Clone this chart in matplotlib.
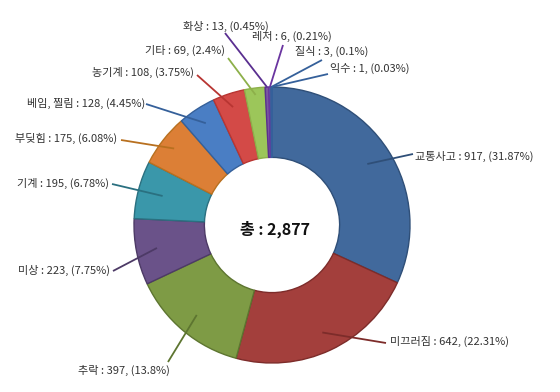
import numpy as np
import matplotlib.pyplot as plt

plt.rcParams['font.family'] = ['Noto Sans CJK KR', 'DejaVu Sans']

# data (clockwise from top)
categories = ['교통사고', '미끄러짐', '추락', '미상', '기계', '부딪힘', '베임, 찔림',
              '농기계', '기타', '화상', '레저', '질식', '익수']
counts = [917, 642, 397, 223, 195, 175, 128, 108, 69, 13, 6, 3, 1]
percents = ['31.87', '22.31', '13.8', '7.75', '6.78', '6.08', '4.45',
            '3.75', '2.4', '0.45', '0.21', '0.1', '0.03']
total_label = '총 : 2,877'

colors = ['#41699c', '#a33f3c', '#7e9b45', '#6a5289', '#3a97aa', '#dc7f36', '#4a7ec4',
          '#d34a47', '#9cc65a', '#7a56a0', '#3d9ab0', '#e0873c', '#4d7fc0']
edge_colors = ['#2f4f78', '#7d2c2a', '#5d7530', '#4d3a66', '#2a7080', '#b8701f', '#35609a',
               '#b83532', '#8db04a', '#5a2f90', '#6a35a0', '#35609a', '#35609a']

# label text positions in pixels (x, y from top)
label_pos = [(415, 156), (390, 341), (78, 370), (18, 270), (17, 183), (15, 138), (27, 103),
             (92, 72), (145, 50), (183, 26), (252, 36), (295, 51), (330, 68)]
line_start = [(413, 154), (386, 343), (168, 362), (113, 271), (112, 184), (121, 140), (146, 104),
              (197, 75), (228, 58), (225, 33), (283, 45), (322, 60), (328, 74)]
line_r = [0.82, 0.86, 0.85, 0.85, 0.82, 0.9, 0.88, 0.9, 0.95, 1.0, 1.0, 1.0, 1.0]

W, H = 560, 392
cx, cy, R = 272, 392 - 225, 138

fig = plt.figure(figsize=(5.6, 3.92), dpi=100)
ax = fig.add_axes([0, 0, 1, 1])

wedges, _ = ax.pie(counts, colors=colors, startangle=90, counterclock=False,
                   center=(cx, cy), radius=R, frame=True,
                   wedgeprops=dict(width=R * 0.51))
for w, ec in zip(wedges, edge_colors):
    w.set_edgecolor(ec)
    w.set_linewidth(1.0)

ax.set_xlim(0, W)
ax.set_ylim(0, H)
ax.set_aspect('equal')
ax.axis('off')

for i, w in enumerate(wedges):
    ang = np.deg2rad((w.theta1 + w.theta2) / 2)
    px = cx + R * line_r[i] * np.cos(ang)
    py = cy + R * line_r[i] * np.sin(ang)
    sx, sy = line_start[i]
    ax.plot([sx, px], [H - sy, py], color=edge_colors[i], lw=1.3,
            solid_capstyle='butt', zorder=5)
    tx, ty = label_pos[i]
    ax.text(tx, H - ty, f'{categories[i]} : {counts[i]}, ({percents[i]}%)',
            fontsize=8, color='#333333', va='center', ha='left')

ax.text(cx + 3, cy - 4, total_label, fontsize=11.5, fontweight='bold',
        ha='center', va='center', color='#111111')

fig.savefig('out.png', dpi=100)
